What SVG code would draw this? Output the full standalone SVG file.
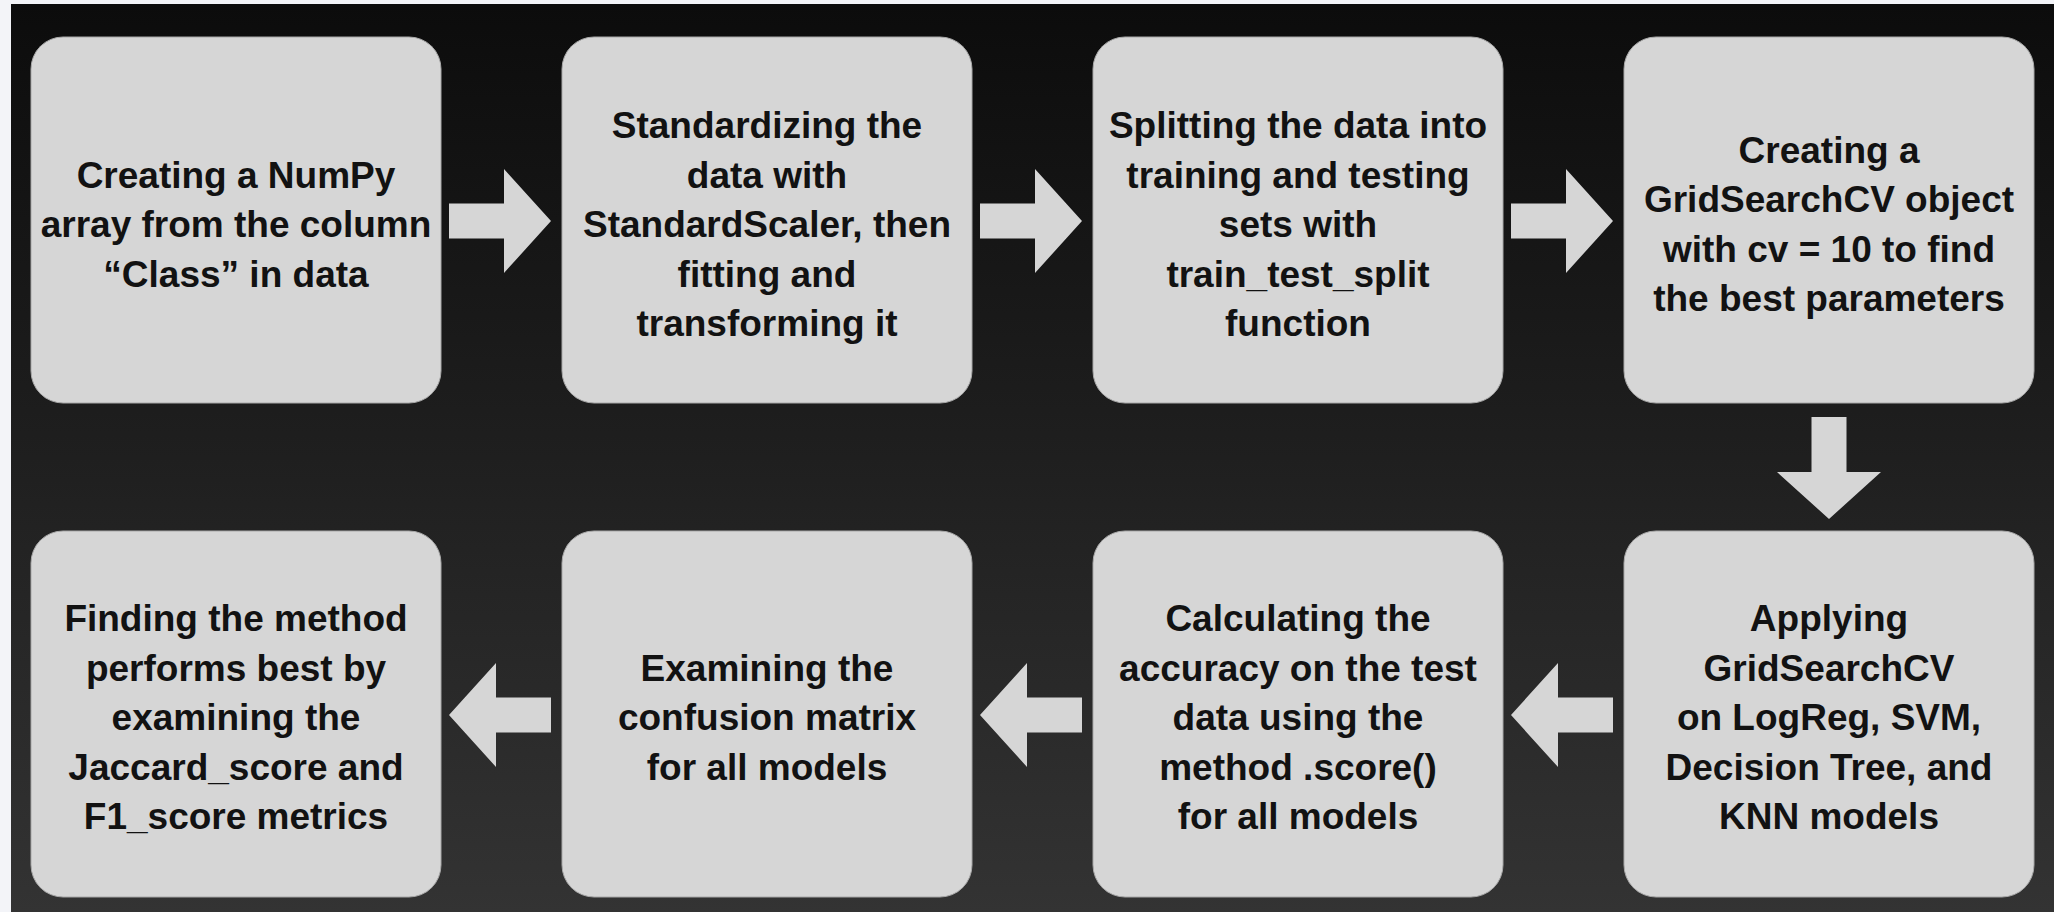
<svg xmlns="http://www.w3.org/2000/svg" xmlns:xlink="http://www.w3.org/1999/xlink" width="2054" height="912" viewBox="0 0 2054 912">
<style>
.box{fill:#d6d6d6;stroke:#a8a8a8;stroke-width:1}
.arrow{fill:#d6d6d6}
.lbl{font-family:"Liberation Sans",Arial,sans-serif;font-weight:bold;font-size:37px;fill:#121212;text-anchor:middle}
</style>
<defs>
<linearGradient id="bg" x1="0" y1="0" x2="0" y2="1">
<stop offset="0" stop-color="#0c0c0c"/>
<stop offset="0.5" stop-color="#1f1f1f"/>
<stop offset="1" stop-color="#333333"/>
</linearGradient>
<path id="arr" d="M0,-17.5 H55 V-52 L102,0 L55,52 V17.5 H0 Z"/>
</defs>
<rect x="0" y="0" width="2054" height="912" fill="#f3f4f8"/>
<rect x="11" y="4" width="2043" height="908" fill="url(#bg)"/>

<g id="connectors">
<use xlink:href="#arr" href="#arr" class="arrow" transform="translate(449,221)"/>
<use xlink:href="#arr" href="#arr" class="arrow" transform="translate(980,221)"/>
<use xlink:href="#arr" href="#arr" class="arrow" transform="translate(1511,221)"/>
<use xlink:href="#arr" href="#arr" class="arrow" transform="translate(1829,417) rotate(90)"/>
<use xlink:href="#arr" href="#arr" class="arrow" transform="translate(1613,715) scale(-1,1)"/>
<use xlink:href="#arr" href="#arr" class="arrow" transform="translate(1082,715) scale(-1,1)"/>
<use xlink:href="#arr" href="#arr" class="arrow" transform="translate(551,715) scale(-1,1)"/>
</g>

<g id="node1">
<rect class="box" x="31" y="37" width="410" height="366" rx="32"/>
<text class="lbl"><tspan x="236" y="187.5">Creating a NumPy</tspan><tspan x="236" y="237">array from the column</tspan><tspan x="236" y="286.5">“Class” in data</tspan></text>
</g>
<g id="node2">
<rect class="box" x="562" y="37" width="410" height="366" rx="32"/>
<text class="lbl"><tspan x="767" y="138">Standardizing the</tspan><tspan x="767" y="187.5">data with</tspan><tspan x="767" y="237">StandardScaler, then</tspan><tspan x="767" y="286.5">fitting and</tspan><tspan x="767" y="336">transforming it</tspan></text>
</g>
<g id="node3">
<rect class="box" x="1093" y="37" width="410" height="366" rx="32"/>
<text class="lbl"><tspan x="1298" y="138">Splitting the data into</tspan><tspan x="1298" y="187.5">training and testing</tspan><tspan x="1298" y="237">sets with</tspan><tspan x="1298" y="286.5">train_test_split</tspan><tspan x="1298" y="336">function</tspan></text>
</g>
<g id="node4">
<rect class="box" x="1624" y="37" width="410" height="366" rx="32"/>
<text class="lbl"><tspan x="1829" y="162.5">Creating a</tspan><tspan x="1829" y="212">GridSearchCV object</tspan><tspan x="1829" y="261.5">with cv = 10 to find</tspan><tspan x="1829" y="311">the best parameters</tspan></text>
</g>
<g id="node5">
<rect class="box" x="1624" y="531" width="410" height="366" rx="32"/>
<text class="lbl"><tspan x="1829" y="631">Applying</tspan><tspan x="1829" y="680.5">GridSearchCV</tspan><tspan x="1829" y="730">on LogReg, SVM,</tspan><tspan x="1829" y="779.5">Decision Tree, and</tspan><tspan x="1829" y="829">KNN models</tspan></text>
</g>
<g id="node6">
<rect class="box" x="1093" y="531" width="410" height="366" rx="32"/>
<text class="lbl"><tspan x="1298" y="631">Calculating the</tspan><tspan x="1298" y="680.5">accuracy on the test</tspan><tspan x="1298" y="730">data using the</tspan><tspan x="1298" y="779.5">method .score()</tspan><tspan x="1298" y="829">for all models</tspan></text>
</g>
<g id="node7">
<rect class="box" x="562" y="531" width="410" height="366" rx="32"/>
<text class="lbl"><tspan x="767" y="680.5">Examining the</tspan><tspan x="767" y="730">confusion matrix</tspan><tspan x="767" y="779.5">for all models</tspan></text>
</g>
<g id="node8">
<rect class="box" x="31" y="531" width="410" height="366" rx="32"/>
<text class="lbl"><tspan x="236" y="631">Finding the method</tspan><tspan x="236" y="680.5">performs best by</tspan><tspan x="236" y="730">examining the</tspan><tspan x="236" y="779.5">Jaccard_score and</tspan><tspan x="236" y="829">F1_score metrics</tspan></text>
</g>
</svg>
